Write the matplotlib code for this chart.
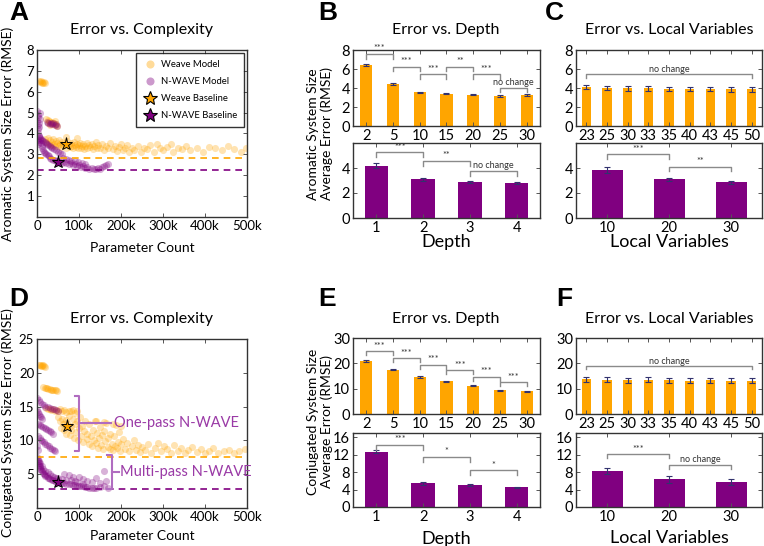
import numpy as np
import matplotlib.pyplot as plt

plt.rcParams['font.family'] = ['Lato', 'DejaVu Sans']

# -------------------------------
# colours
# -------------------------------
ORANGE = '#FFA500'
PURPLE = '#800080'
ECOL = '#33336e'
BRK = '#8a8a8a'
NOTE = '#9a3aa6'

# -------------------------------
# Scatter data: (parameter count in thousands, RMSE)
# -------------------------------
aro_weave = [
    (5, 6.5), (7, 6.45), (9, 6.5), (11, 6.4), (13, 6.45), (15, 6.4), (17, 6.45), (19, 6.4),
    (22, 4.7), (25, 4.65), (28, 4.6), (30, 4.55), (33, 4.5), (36, 4.55), (38, 4.45), (40, 4.5),
    (43, 4.45), (45, 4.4), (48, 4.35), (26, 4.5), (32, 4.4), (42, 4.6),
    (18, 3.75), (22, 3.6), (25, 3.8), (28, 3.5), (30, 3.7), (33, 3.45), (35, 3.6), (38, 3.75),
    (40, 3.5), (42, 3.4), (45, 3.65), (48, 3.55), (50, 3.4), (52, 3.7), (55, 3.5), (58, 3.35),
    (60, 3.6), (62, 3.45), (65, 3.55), (68, 3.3), (72, 3.65), (75, 3.45), (78, 3.35), (80, 3.55),
    (83, 3.4), (85, 3.3), (88, 3.6), (90, 3.45), (93, 3.35), (95, 3.5), (98, 3.3), (100, 3.45),
    (103, 3.55), (105, 3.3), (108, 3.4), (110, 3.5), (113, 3.25), (115, 3.4), (118, 3.55),
    (120, 3.3), (123, 3.45), (126, 3.35), (130, 3.5), (133, 3.25), (136, 3.4), (140, 3.6),
    (143, 3.3), (146, 3.45), (150, 3.3), (155, 3.5), (160, 3.2), (165, 3.4), (170, 3.3),
    (175, 3.55), (180, 3.25), (185, 3.4), (190, 3.15), (195, 3.35), (200, 3.5), (205, 3.2),
    (210, 3.3), (215, 3.45), (220, 3.1), (225, 3.3), (232, 3.2), (240, 3.4), (248, 3.1),
    (255, 3.3), (262, 3.25), (270, 3.45), (278, 3.1), (285, 3.5), (292, 3.3), (300, 3.2),
    (310, 3.35), (318, 3.5), (325, 3.1), (335, 3.3), (345, 3.25), (355, 3.4), (365, 3.2),
    (380, 3.3), (395, 3.1), (410, 3.35), (425, 3.3), (440, 3.2), (455, 3.4), (470, 3.25),
    (485, 3.1), (498, 3.3), (70, 3.85), (95, 3.8),
]
aro_nwave = [
    (1, 5.1), (2, 4.9), (3, 4.8), (1, 4.6), (2, 4.4), (3, 4.2), (1.5, 4.0), (4, 3.9), (2.5, 3.7),
    (5, 3.6), (3, 3.5), (6, 5.0), (6, 4.7), (4, 4.5), (5, 4.3),
    (24, 4.55), (27, 4.5), (30, 4.45), (33, 4.5), (36, 4.45), (39, 4.5), (42, 4.4), (45, 4.45), (48, 4.35),
    (5, 3.9), (7, 3.7), (9, 3.55), (11, 3.4), (13, 3.3), (15, 3.2), (17, 3.1), (19, 3.05), (22, 3.0),
    (25, 2.95), (28, 2.9), (31, 2.85), (34, 2.8), (38, 2.75), (42, 2.75), (46, 2.7), (50, 2.7),
    (55, 2.65), (60, 2.6), (65, 2.65), (70, 2.6), (75, 2.55), (80, 2.6), (85, 2.5), (90, 2.55),
    (95, 2.45), (100, 2.5), (105, 2.4), (110, 2.45), (115, 2.35), (120, 2.4), (125, 2.3),
    (130, 2.35), (135, 2.3), (140, 2.3), (145, 2.35), (150, 2.3), (155, 2.4), (160, 2.45),
    (165, 2.5), (170, 2.55),
    (8, 3.8), (10, 3.75), (12, 3.7), (15, 3.65), (18, 3.6), (21, 3.55), (24, 3.5), (27, 3.45),
    (30, 3.4), (33, 3.35), (36, 3.3), (40, 3.25), (45, 3.2), (50, 3.1), (55, 3.05), (60, 3.0),
    (62, 2.85), (68, 2.8), (75, 2.75), (82, 2.7), (90, 2.7), (98, 2.65), (106, 2.6), (114, 2.55),
]
conj_weave = [
    (5, 21.2), (7, 21.1), (9, 21.0), (11, 21.1), (13, 21.0), (15, 21.1), (17, 21.0), (19, 20.9),
    (15, 17.9), (18, 17.8), (21, 17.7), (24, 17.7), (27, 17.6), (30, 17.6), (33, 17.5), (36, 17.5),
    (39, 17.4), (42, 17.5), (45, 17.4), (48, 17.3),
    (22, 14.8), (26, 14.6), (30, 14.7), (34, 14.5), (38, 14.6), (42, 14.4), (46, 14.5), (50, 14.3),
    (55, 14.6), (60, 14.4), (65, 14.5), (70, 14.2), (75, 14.4), (80, 14.3), (85, 14.5), (90, 14.1),
    (95, 14.3),
    (50, 13.5), (55, 12.8), (58, 11.9), (60, 13.2), (63, 12.4), (65, 11.5), (68, 13.0), (70, 11.0),
    (72, 12.6), (75, 13.6), (78, 10.8), (80, 12.1), (82, 11.6), (85, 13.1), (88, 10.4), (90, 12.5),
    (92, 11.2), (95, 12.9), (98, 10.1), (100, 11.8), (102, 13.4), (105, 10.6), (108, 12.2),
    (110, 9.8), (112, 11.4), (115, 12.8), (118, 10.2), (120, 11.0), (123, 9.5), (125, 12.4),
    (128, 10.7), (130, 9.2), (133, 11.6), (135, 10.0), (138, 12.8), (140, 9.6), (143, 11.1),
    (145, 8.9), (148, 10.4), (150, 12.0), (153, 9.3), (155, 10.8), (158, 8.7), (160, 11.4),
    (163, 9.9), (165, 12.6), (168, 9.0), (170, 10.3), (173, 8.8), (175, 11.0), (178, 9.5),
    (180, 8.6), (183, 10.6), (185, 9.2), (188, 12.3), (190, 8.9), (193, 9.8), (195, 11.2),
    (198, 8.5), (200, 9.4), (205, 10.2), (210, 8.8), (215, 9.6), (220, 8.4), (225, 9.1),
    (230, 10.0), (235, 8.6), (240, 9.3), (245, 8.3), (250, 9.0), (140, 12.9), (160, 12.7),
    (180, 12.5), (200, 12.2),
    (258, 8.6), (265, 9.4), (272, 8.2), (280, 8.9), (288, 9.6), (295, 8.4), (303, 9.1), (310, 8.7),
    (318, 8.2), (326, 9.3), (335, 8.5), (343, 8.9), (352, 8.1), (360, 8.6), (370, 9.0), (380, 8.3),
    (390, 8.7), (400, 8.2), (410, 8.5), (420, 8.9), (432, 8.1), (445, 8.4), (458, 8.6), (470, 8.2),
    (482, 8.4), (495, 8.8),
]
conj_nwave = [
    (1, 16.2), (4, 16.0), (8, 15.7), (12, 15.4), (16, 15.2), (20, 15.0), (25, 14.9), (30, 14.8),
    (35, 14.7), (40, 14.6), (45, 14.5), (50, 14.4),
    (1, 14.5), (3, 14.2), (5, 13.9), (7, 13.6), (9, 13.4), (11, 13.2),
    (2, 12.5), (6, 12.3), (10, 12.1), (14, 12.0), (18, 11.8), (22, 11.7), (26, 11.5), (30, 11.4),
    (34, 11.2), (38, 11.0),
    (3, 10.6), (6, 10.3), (9, 10.1), (12, 9.9), (16, 9.7), (20, 9.5), (24, 9.3), (28, 9.1),
    (32, 8.9), (36, 8.8), (40, 8.6), (44, 8.5), (2, 8.6), (1, 9.2),
    (1, 7.5), (2, 7.2), (3, 6.9), (4, 6.6), (5, 6.4), (6, 6.2), (7, 6.0), (8, 5.8), (10, 5.6),
    (12, 5.4), (14, 5.2), (16, 5.0), (18, 4.9), (20, 4.8), (23, 4.7), (26, 4.5), (29, 4.4),
    (32, 4.3), (35, 4.2), (38, 4.1), (42, 4.0), (46, 3.9), (50, 3.9), (55, 3.8), (60, 3.7),
    (65, 3.7), (70, 3.6), (75, 3.5), (80, 3.5), (85, 3.4), (90, 3.4), (95, 3.3), (100, 3.3),
    (105, 3.2), (110, 3.2), (115, 3.1), (120, 3.1), (125, 3.0), (130, 3.0), (135, 3.0),
    (140, 2.9), (150, 3.1), (160, 3.3), (170, 3.0),
    (5, 7.0), (8, 6.6), (12, 6.2), (15, 5.8), (20, 5.5), (25, 5.3), (30, 5.0), (35, 4.8),
    (40, 4.6), (45, 4.5), (50, 4.4), (60, 4.3), (70, 4.2), (80, 4.1), (90, 4.0), (100, 4.6),
    (110, 4.3), (120, 4.0), (130, 3.8), (140, 4.5), (150, 3.7), (160, 5.4), (165, 4.0),
    (110, 3.6), (95, 3.9), (85, 4.6), (75, 4.9), (65, 5.1),
]

# baselines (stars) and best-error dashed lines
aro_star_weave, aro_star_nwave = (70, 3.5), (50, 2.65)
conj_star_weave, conj_star_nwave = (72, 12.1), (50, 3.85)
aro_line_weave, aro_line_nwave = 2.85, 2.25
conj_line_weave, conj_line_nwave = 7.55, 2.8

# -------------------------------
# Bar data
# -------------------------------
depth_weave_labels = ['2', '5', '10', '15', '20', '25', '30']
depth_nwave_labels = ['1', '2', '3', '4']
lv_weave_labels = ['23', '25', '30', '33', '35', '40', '43', '45', '50']
lv_nwave_labels = ['10', '20', '30']

aro_depth_weave = [6.4, 4.4, 3.55, 3.4, 3.3, 3.15, 3.25]
aro_depth_weave_err = [0.12, 0.08, 0.06, 0.06, 0.08, 0.07, 0.07]
aro_depth_nwave = [4.2, 3.1, 2.9, 2.8]
aro_depth_nwave_err = [0.22, 0.1, 0.08, 0.08]
aro_lv_weave = [4.1, 4.0, 3.95, 3.95, 3.9, 3.9, 3.9, 3.85, 3.85]
aro_lv_weave_err = [0.25, 0.25, 0.25, 0.25, 0.25, 0.25, 0.25, 0.25, 0.25]
aro_lv_nwave = [3.85, 3.1, 2.85]
aro_lv_nwave_err = [0.25, 0.1, 0.12]

conj_depth_weave = [21.0, 17.5, 14.6, 12.9, 11.2, 9.3, 8.9]
conj_depth_weave_err = [0.3, 0.3, 0.3, 0.3, 0.3, 0.3, 0.3]
conj_depth_nwave = [12.7, 5.4, 5.0, 4.5]
conj_depth_nwave_err = [0.4, 0.35, 0.25, 0.2]
conj_lv_weave = [13.8, 13.5, 13.3, 13.5, 13.3, 13.1, 13.3, 13.2, 13.1]
conj_lv_weave_err = [1.0, 1.0, 1.0, 1.0, 1.0, 1.0, 1.0, 1.0, 1.0]
conj_lv_nwave = [8.3, 6.4, 5.8]
conj_lv_nwave_err = [0.7, 0.8, 0.7]

# significance brackets: (from bar, to bar, top y, label)
aro_depth_weave_sig = [(0, 1, 7.6, '***'), (1, 2, 6.25, '***'), (2, 3, 5.45, '***'),
                       (3, 4, 6.25, '**'), (4, 5, 5.45, '***'), (5, 6, 4.05, 'no change')]
aro_depth_nwave_sig = [(0, 1, 5.25, '***'), (1, 2, 4.6, '**'), (2, 3, 3.8, 'no change')]
aro_lv_weave_sig = [(0, 8, 5.45, 'no change')]
aro_lv_nwave_sig = [(0, 1, 5.1, '***'), (1, 2, 4.1, '**')]
conj_depth_weave_sig = [(0, 1, 24.7, '***'), (1, 2, 22.1, '***'), (2, 3, 19.4, '***'),
                        (3, 4, 17.4, '***'), (4, 5, 14.8, '***'), (5, 6, 12.5, '***')]
conj_depth_nwave_sig = [(0, 1, 14.3, '***'), (1, 2, 11.5, '*'), (2, 3, 8.45, '*')]
conj_lv_weave_sig = [(0, 8, 18.9, 'no change')]
conj_lv_nwave_sig = [(0, 1, 12.2, '***'), (1, 2, 9.7, 'no change')]

# -------------------------------
# Layout helpers (pixel boxes in a 764x546 figure)
# -------------------------------
W, H = 764, 546
fig = plt.figure(figsize=(W / 100, H / 100), dpi=100)


def box(l, t, r, b):
    return [l / W, 1 - b / H, (r - l) / W, (b - t) / H]


def ftext(x, y, s, **kw):
    fig.text(x / W, 1 - y / H, s, **kw)


def style(ax, size=9):
    for sp in ax.spines.values():
        sp.set_color('#333333')
        sp.set_linewidth(1.0)
    ax.tick_params(direction='in', top=True, right=True, length=3, width=0.7,
                   color='#555555', labelsize=size, pad=2)


def scatter_panel(ax, weave, nwave, star_w, star_n, line_w, line_n):
    wx, wy = zip(*weave)
    nx, ny = zip(*nwave)
    ax.scatter(np.array(wx) * 1000, wy, s=26, color=ORANGE, alpha=0.3, lw=0)
    ax.scatter(np.array(nx) * 1000, ny, s=26, color=PURPLE, alpha=0.3, lw=0)
    ax.axhline(line_w, color=ORANGE, ls='--', lw=1.2, dashes=(4, 3))
    ax.axhline(line_n, color=PURPLE, ls='--', lw=1.2, dashes=(4, 3))
    ax.plot(star_w[0] * 1000, star_w[1], marker='*', ms=9.5, color=ORANGE, mec='black', mew=0.7)
    ax.plot(star_n[0] * 1000, star_n[1], marker='*', ms=9.5, color=PURPLE, mec='black', mew=0.7)
    ax.set_xlim(0, 500000)
    ax.set_xticks([0, 100000, 200000, 300000, 400000, 500000])
    ax.set_xticklabels(['0', '100k', '200k', '300k', '400k', '500k'])
    style(ax, 9.5)


def bar_panel(ax, labels, vals, errs, color, sig, ymax, yticks, drop, width):
    x = np.arange(len(vals))
    ax.bar(x, vals, width=width, color=color, edgecolor='none')
    ax.errorbar(x, vals, yerr=errs, fmt='none', ecolor=ECOL, elinewidth=0.8, capsize=2, capthick=0.8)
    for i, j, top, lab in sig:
        ax.plot([i, i, j, j], [top - drop, top, top, top - drop], color=BRK, lw=1)
        ax.text((i + j) / 2, top + drop * 0.1, lab, ha='center', va='bottom', fontsize=6.5, color='#333333')
    ax.set_xlim(-0.5, len(vals) - 0.5)
    ax.set_xticks(x)
    ax.set_xticklabels(labels)
    ax.set_ylim(0, ymax)
    ax.set_yticks(yticks)
    style(ax, 10.5)


# -------------------------------
# Panel A
# -------------------------------
axA = fig.add_axes(box(37, 50, 247, 217))
scatter_panel(axA, aro_weave, aro_nwave, aro_star_weave, aro_star_nwave, aro_line_weave, aro_line_nwave)
axA.set_ylim(0, 8)
axA.set_yticks([1, 2, 3, 4, 5, 6, 7, 8])
hw = axA.scatter([], [], s=34, color=ORANGE, alpha=0.4, lw=0, label='Weave Model')
hn = axA.scatter([], [], s=34, color=PURPLE, alpha=0.4, lw=0, label='N-WAVE Model')
hsw, = axA.plot([], [], '*', ms=10, color=ORANGE, mec='black', mew=0.8, label='Weave Baseline')
hsn, = axA.plot([], [], '*', ms=10, color=PURPLE, mec='black', mew=0.8, label='N-WAVE Baseline')
leg = axA.legend(handles=[hw, hn, hsw, hsn], loc='upper right', fontsize=6.8, frameon=True,
                 fancybox=False, edgecolor='black', borderpad=0.7, labelspacing=0.85,
                 handletextpad=0.3, handlelength=1.6, borderaxespad=0.35)
leg.get_frame().set_linewidth(1.0)

# -------------------------------
# Panel D
# -------------------------------
axD = fig.add_axes(box(37, 339, 247, 508))
scatter_panel(axD, conj_weave, conj_nwave, conj_star_weave, conj_star_nwave, conj_line_weave, conj_line_nwave)
axD.set_ylim(0, 25)
axD.set_yticks([5, 10, 15, 20, 25])
# one-pass bracket
axD.plot([90e3, 101e3, 101e3, 90e3], [16.6, 16.6, 8.4, 8.4], color='#b06cc0', lw=1.5)
axD.plot([101e3, 176e3], [12.6, 12.6], color='#b06cc0', lw=1.5)
axD.text(183e3, 12.6, 'One-pass N-WAVE', color=NOTE, fontsize=10.5, va='center')
# multi-pass bracket
axD.plot([166e3, 178e3, 178e3, 166e3], [7.9, 7.9, 2.85, 2.85], color='#b06cc0', lw=1.5)
axD.plot([178e3, 195e3], [5.3, 5.3], color='#b06cc0', lw=1.5)
axD.text(197e3, 5.3, 'Multi-pass N-WAVE', color=NOTE, fontsize=10.5, va='center')

# -------------------------------
# Panels B, C, E, F
# -------------------------------
axB1 = fig.add_axes(box(353, 50, 540, 126))
bar_panel(axB1, depth_weave_labels, aro_depth_weave, aro_depth_weave_err, ORANGE,
          aro_depth_weave_sig, 8, [0, 2, 4, 6, 8], 0.5, 0.45)
axB2 = fig.add_axes(box(353, 143, 540, 218))
bar_panel(axB2, depth_nwave_labels, aro_depth_nwave, aro_depth_nwave_err, PURPLE,
          aro_depth_nwave_sig, 6, [0, 2, 4], 0.4, 0.5)
axC1 = fig.add_axes(box(576, 50, 762, 126))
bar_panel(axC1, lv_weave_labels, aro_lv_weave, aro_lv_weave_err, ORANGE,
          aro_lv_weave_sig, 8, [0, 2, 4, 6, 8], 0.4, 0.45)
axC2 = fig.add_axes(box(576, 143, 762, 218))
bar_panel(axC2, lv_nwave_labels, aro_lv_nwave, aro_lv_nwave_err, PURPLE,
          aro_lv_nwave_sig, 6, [0, 2, 4], 0.35, 0.5)

axE1 = fig.add_axes(box(353, 338, 540, 414))
bar_panel(axE1, depth_weave_labels, conj_depth_weave, conj_depth_weave_err, ORANGE,
          conj_depth_weave_sig, 30, [0, 10, 20, 30], 1.6, 0.45)
axE2 = fig.add_axes(box(353, 433, 540, 507))
bar_panel(axE2, depth_nwave_labels, conj_depth_nwave, conj_depth_nwave_err, PURPLE,
          conj_depth_nwave_sig, 17, [0, 4, 8, 12, 16], 1.1, 0.5)
axF1 = fig.add_axes(box(576, 338, 762, 414))
bar_panel(axF1, lv_weave_labels, conj_lv_weave, conj_lv_weave_err, ORANGE,
          conj_lv_weave_sig, 30, [0, 10, 20, 30], 1.3, 0.45)
axF2 = fig.add_axes(box(576, 433, 762, 507))
bar_panel(axF2, lv_nwave_labels, conj_lv_nwave, conj_lv_nwave_err, PURPLE,
          conj_lv_nwave_sig, 17, [0, 4, 8, 12, 16], 0.9, 0.5)

# -------------------------------
# Titles, labels, panel letters
# -------------------------------
tkw = dict(ha='center', va='center', fontsize=11.5)
ftext(142, 30, 'Error vs. Complexity', **tkw)
ftext(446, 30, 'Error vs. Depth', **tkw)
ftext(669, 30, 'Error vs. Local Variables', **tkw)
ftext(142, 319, 'Error vs. Complexity', **tkw)
ftext(446, 319, 'Error vs. Depth', **tkw)
ftext(669, 319, 'Error vs. Local Variables', **tkw)

lkw = dict(ha='left', va='center', fontsize=19, fontweight='bold', family='Liberation Sans')
ftext(9, 13, 'A', **lkw)
ftext(318, 13, 'B', **lkw)
ftext(545, 13, 'C', **lkw)
ftext(9, 299, 'D', **lkw)
ftext(318, 299, 'E', **lkw)
ftext(556, 299, 'F', **lkw)

ftext(142, 248, 'Parameter Count', ha='center', va='center', fontsize=10)
ftext(142, 536, 'Parameter Count', ha='center', va='center', fontsize=10)
ftext(446, 242, 'Depth', ha='center', va='center', fontsize=13)
ftext(669, 242, 'Local Variables', ha='center', va='center', fontsize=13)
ftext(446, 539, 'Depth', ha='center', va='center', fontsize=13)
ftext(669, 538, 'Local Variables', ha='center', va='center', fontsize=13)

ftext(8, 134, 'Aromatic System Size Error (RMSE)', rotation=90, ha='center', va='center', fontsize=10)
ftext(8, 423, 'Conjugated System Size Error (RMSE)', rotation=90, ha='center', va='center', fontsize=10)
ftext(320, 134, 'Aromatic System Size\nAverage Error (RMSE)', rotation=90, ha='center',
      va='center', fontsize=10, linespacing=1.1)
ftext(320, 422, 'Conjugated System Size\nAverage Error (RMSE)', rotation=90, ha='center',
      va='center', fontsize=10, linespacing=1.1)

fig.savefig('out.png', dpi=100)
